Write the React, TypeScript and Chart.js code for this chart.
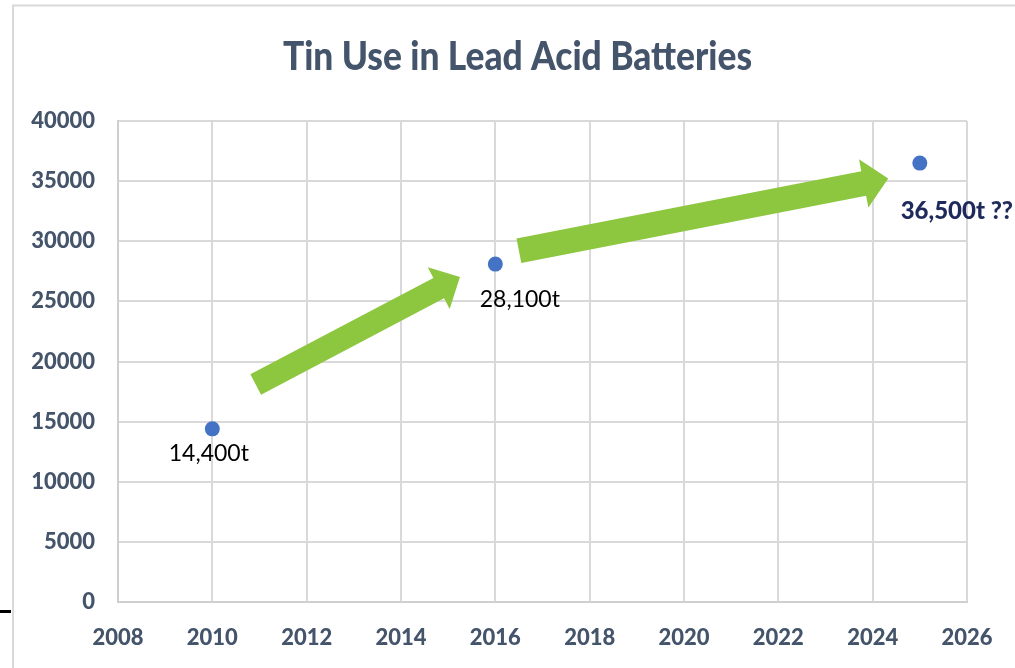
import { useEffect, useRef } from 'react';
import { Chart, registerables } from 'chart.js';

Chart.register(...registerables);

// Tin consumed by lead-acid batteries (tonnes)
const YEARS = [2010, 2016, 2025];
const TIN_TONNES = [14400, 28100, 36500];
const LABEL_SUFFIX = ['', '', ' ??'];

const X_TICKS = [2008, 2010, 2012, 2014, 2016, 2018, 2020, 2022, 2024, 2026];
const Y_TICKS = [0, 5000, 10000, 15000, 20000, 25000, 30000, 35000, 40000];

// Trend arrows, in data units (year, tonnes)
const ARROW_FROM_YEAR = [2010.92, 2016.5];
const ARROW_FROM_TONNES = [18090, 29210];
const ARROW_TO_YEAR = [2015.25, 2024.33];
const ARROW_TO_TONNES = [27030, 35210];

const TITLE = 'Tin Use in Lead Acid Batteries';

const SLATE = '#44546A';
const GRID = '#D9D9D9';
const FONT = 'Lato, "Open Sans", sans-serif';

const formatLabel = (v: number, i: number) =>
  v.toLocaleString('en-US') + 't' + LABEL_SUFFIX[i];

const framePlugin = {
  id: 'frame',
  beforeDraw(chart: any) {
    const ctx = chart.ctx;
    ctx.save();
    ctx.strokeStyle = GRID;
    ctx.lineWidth = 2;
    ctx.beginPath();
    ctx.moveTo(13, chart.height);
    ctx.lineTo(13, 5.5);
    ctx.lineTo(chart.width, 5.5);
    ctx.stroke();
    ctx.strokeStyle = '#000';
    ctx.lineWidth = 3;
    ctx.beginPath();
    ctx.moveTo(0, 611.5);
    ctx.lineTo(11, 611.5);
    ctx.stroke();
    ctx.restore();
  },
};

const titlePlugin = {
  id: 'condensedTitle',
  afterDraw(chart: any) {
    const ctx = chart.ctx;
    ctx.save();
    ctx.font = `900 40px ${FONT}`;
    ctx.fillStyle = SLATE;
    ctx.textAlign = 'center';
    ctx.textBaseline = 'alphabetic';
    const w = ctx.measureText(TITLE).width;
    const sx = Math.min(1, 469 / w);
    ctx.translate(517.5, 70);
    ctx.scale(sx, 1);
    ctx.fillText(TITLE, 0, 0);
    ctx.restore();
  },
};

const arrowPlugin = {
  id: 'trendArrows',
  afterDatasetsDraw(chart: any, _args: any, opts: any) {
    const { ctx, scales } = chart;
    const xs = scales.x;
    const ys = scales.y;
    ctx.save();
    ctx.fillStyle = opts.color;
    ARROW_FROM_YEAR.forEach((_, i) => {
      const tx = xs.getPixelForValue(ARROW_FROM_YEAR[i]);
      const ty = ys.getPixelForValue(ARROW_FROM_TONNES[i]);
      const px = xs.getPixelForValue(ARROW_TO_YEAR[i]);
      const py = ys.getPixelForValue(ARROW_TO_TONNES[i]);
      const len = Math.hypot(px - tx, py - ty);
      const ux = (px - tx) / len;
      const uy = (py - ty) / len;
      const nx = -uy;
      const ny = ux;
      const sw = opts.shaft[i] / 2;
      const hw = opts.head[i] / 2;
      const hl = opts.headLength[i];
      const bx = px - ux * hl;
      const by = py - uy * hl;
      ctx.beginPath();
      ctx.moveTo(tx + nx * sw, ty + ny * sw);
      ctx.lineTo(bx + nx * sw, by + ny * sw);
      ctx.lineTo(bx + nx * hw, by + ny * hw);
      ctx.lineTo(px, py);
      ctx.lineTo(bx - nx * hw, by - ny * hw);
      ctx.lineTo(bx - nx * sw, by - ny * sw);
      ctx.lineTo(tx - nx * sw, ty - ny * sw);
      ctx.closePath();
      ctx.fill();
    });
    ctx.restore();
  },
};

const valueLabelPlugin = {
  id: 'valueLabels',
  afterDatasetsDraw(chart: any, _args: any, opts: any) {
    const ctx = chart.ctx;
    const meta = chart.getDatasetMeta(0);
    meta.data.forEach((pt: any, i: number) => {
      const s = opts.styles[i];
      ctx.save();
      ctx.textAlign = 'center';
      ctx.textBaseline = 'middle';
      ctx.font = s.font;
      ctx.fillStyle = s.color;
      ctx.translate(pt.x + s.dx, pt.y + s.dy);
      ctx.scale(s.sx, 1);
      ctx.fillText(formatLabel(TIN_TONNES[i], i), 0, 0);
      ctx.restore();
    });
  },
};

export default function App() {
  const canvasRef = useRef<HTMLCanvasElement | null>(null);

  useEffect(() => {
    if (!canvasRef.current) return;
    const tickFont = { family: FONT, size: 22, weight: 900 as any };
    const chart = new Chart(canvasRef.current, {
      type: 'scatter',
      data: {
        datasets: [
          {
            label: 'Tin use',
            data: YEARS.map((y, i) => ({ x: y, y: TIN_TONNES[i] })),
            backgroundColor: '#4472C4',
            borderWidth: 0,
            pointRadius: 7.5,
            pointHoverRadius: 7.5,
          },
        ],
      },
      options: {
        responsive: false,
        animation: false,
        devicePixelRatio: 1,
        layout: { padding: { left: 0, top: 121, right: 48, bottom: 0 } },
        plugins: {
          legend: { display: false },
          title: { display: false },
          tooltip: { enabled: false },
          trendArrows: {
            color: '#8DC63F',
            shaft: [23, 25],
            head: [47, 49],
            headLength: [24, 25],
          },
          valueLabels: {
            styles: [
              { font: `23px ${FONT}`, color: '#000000', dx: -3.5, dy: 25, sx: 1 },
              { font: `23px ${FONT}`, color: '#000000', dx: 24.5, dy: 35, sx: 1 },
              { font: `900 24px ${FONT}`, color: '#1F2A5C', dx: 37, dy: 48, sx: 1 },
            ],
          },
        } as any,
        scales: {
          x: {
            type: 'linear',
            min: X_TICKS[0],
            max: X_TICKS[X_TICKS.length - 1],
            afterBuildTicks: (s: any) => {
              s.ticks = X_TICKS.map((v) => ({ value: v }));
            },
            afterFit: (s: any) => {
              s.height = 66;
              s.paddingLeft = 0;
              s.paddingRight = 0;
            },
            grid: { color: GRID, lineWidth: 2, drawTicks: false },
            border: { color: '#CFCFCF', width: 2 },
            ticks: {
              font: tickFont,
              color: SLATE,
              padding: 23,
              maxRotation: 0,
              autoSkip: false,
              callback: (v: any) => String(v),
            },
          },
          y: {
            type: 'linear',
            min: Y_TICKS[0],
            max: Y_TICKS[Y_TICKS.length - 1],
            afterBuildTicks: (s: any) => {
              s.ticks = Y_TICKS.map((v) => ({ value: v }));
            },
            afterFit: (s: any) => {
              s.width = 118;
              s.paddingTop = 0;
              s.paddingBottom = 0;
            },
            grid: { color: GRID, lineWidth: 2, drawTicks: false },
            border: { color: '#CFCFCF', width: 2 },
            ticks: {
              font: tickFont,
              color: SLATE,
              padding: 23,
              autoSkip: false,
              callback: (v: any) => String(v),
            },
          },
        },
      },
      plugins: [framePlugin, arrowPlugin, valueLabelPlugin, titlePlugin],
    });
    return () => chart.destroy();
  }, []);

  return (
    <div style={{ position: 'fixed', left: 0, top: 0, width: 1015, height: 668, background: '#fff' }}>
      <canvas ref={canvasRef} width={1015} height={668} />
    </div>
  );
}
